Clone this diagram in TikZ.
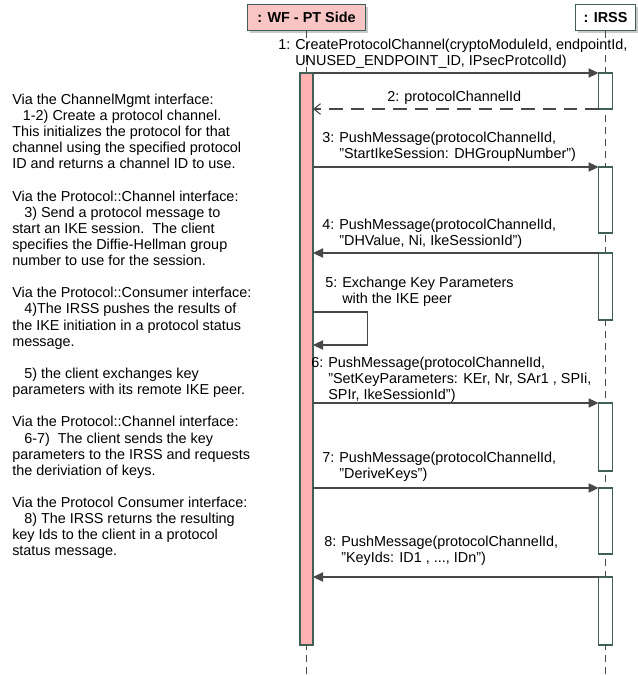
\documentclass[tikz,border=0pt]{standalone}
\usepackage{fontspec}
\setmainfont{Liberation Sans}
\usetikzlibrary{arrows.meta,positioning,shadows}

\definecolor{boxedge}{RGB}{64,96,86}
\definecolor{headpink}{RGB}{248,196,196}
\definecolor{barpink}{RGB}{255,178,178}
\definecolor{msgline}{RGB}{72,72,72}

% activation box on the IRSS lifeline: name, top, bottom (px)
\newcommand{\actbox}[3]{%
  \node[irssbar,minimum height={(#3-#2)*0.75pt},anchor=north] (#1) at (605.5,#2) {};}
% numbered message text, wrapped lines kept under the text
\newcommand{\steptext}[2]{%
  \begin{tabular}[t]{@{}l@{\hspace{0.35em}}l@{}}#1 & \begin{tabular}[t]{@{}l@{}}#2\end{tabular}\end{tabular}}

\begin{document}
\begin{tikzpicture}
	[x=0.75pt,y=-0.75pt,
	font=\fontsize{10.8}{12.1}\selectfont,
	head/.style={draw=boxedge,line width=0.9pt,inner sep=0pt,minimum height=20pt,
		font=\fontsize{10.8}{12.1}\selectfont\bfseries,
		drop shadow={shadow xshift=1.8pt,shadow yshift=-1.8pt,fill=black!35,opacity=0.6}},
	irssbar/.style={draw=boxedge,fill=white,line width=0.9pt,minimum width=10.5pt,inner sep=0pt,outer sep=0pt},
	wfbar/.style={irssbar,fill=barpink,minimum width=9.75pt},
	life/.style={draw=msgline,line width=0.6pt,dash pattern=on 5pt off 4pt},
	msg/.style={draw=msgline,line width=0.8pt,-{Triangle[length=7.5pt,width=7pt]}},
	ret/.style={draw=msgline,line width=0.8pt,dash pattern=on 10pt off 6pt,
		-{Straight Barb[length=5pt,width=8pt]}},
	lbl/.style={anchor=north west,inner sep=0pt,align=left}]
	\useasboundingbox (0,0) rectangle (637,676);
	%%%%% HEADS AND LIFELINES
	\node[head,fill=headpink,minimum width=88.5pt] (wf) at (306.5,17.5) {: WF - PT Side};
	\node[head,fill=white,minimum width=45pt] (irss) at (605.5,17.5) {: IRSS};
	\coordinate (wfend) at (306.5,676);
	\coordinate (irssend) at (605.5,676);
	\draw[life] (wf.south) -- (wfend);
	\draw[life] (irss.south) -- (irssend);
	%%%%% ACTIVATIONS
	\node[wfbar,minimum height={(645-73)*0.75pt},anchor=north] (wfbar) at (306.5,73) {};
	\actbox{a1}{73}{109}
	\actbox{a2}{167}{233}
	\actbox{a3}{253}{320}
	\actbox{a4}{403}{471}
	\actbox{a5}{488}{554}
	\actbox{a6}{577}{645}
	%%%%% MESSAGES
	\draw[msg] (wfbar.east |- a1.north) -- (a1.north west);
	\draw[ret] (a1.south west) -- (wfbar.east |- a1.south);
	\draw[msg] (wfbar.east |- a2.north) -- (a2.north west);
	\draw[msg] (a3.north west) -- (wfbar.east |- a3.north);
	\coordinate (loopa) at (wfbar.east |- 0,312);
	\coordinate (loopb) at (wfbar.east |- 0,345);
	\draw[msg] (loopa) -- ++(54.5,0) |- (loopb);
	\draw[msg] (wfbar.east |- a4.north) -- (a4.north west);
	\draw[msg] (wfbar.east |- a5.north) -- (a5.north west);
	\draw[msg] (a6.north west) -- (wfbar.east |- a6.north);
	%%%%% MESSAGE LABELS
	\node[lbl] (t1) at (278,38) {\steptext{1:}{CreateProtocolChannel(cryptoModuleId, endpointId,\\UNUSED\_ENDPOINT\_ID, IPsecProtcolId)}};
	\node[lbl] (t2) at (387,90) {\steptext{2:}{protocolChannelId}};
	\node[lbl] (t3) at (322,131) {\steptext{3:}{PushMessage(protocolChannelId,\\"StartIkeSession: DHGroupNumber")}};
	\node[lbl] (t4) at (322,218) {\steptext{4:}{PushMessage(protocolChannelId,\\"DHValue, Ni, IkeSessionId")}};
	\node[lbl] (t5) at (325,276) {\steptext{5:}{Exchange Key Parameters\\with the IKE peer}};
	\node[lbl] (t6) at (311,356) {\steptext{6:}{PushMessage(protocolChannelId,\\"SetKeyParameters: KEr, Nr, SAr1 , SPIi,\\SPIr, IkeSessionId")}};
	\node[lbl] (t7) at (322,451) {\steptext{7:}{PushMessage(protocolChannelId,\\"DeriveKeys")}};
	\node[lbl] (t8) at (324,535) {\steptext{8:}{PushMessage(protocolChannelId,\\"KeyIds: ID1 , ..., IDn")}};
	%%%%% NOTES
	\node[lbl] (notes) at (12,93.5) {Via the ChannelMgmt interface:\\
		\hspace*{8pt}1-2) Create a protocol channel.\\
		This initializes the protocol for that\\
		channel using the specified protocol\\
		ID and returns a channel ID to use.\\[12.1pt]
		Via the Protocol::Channel interface:\\
		\hspace*{9pt}3) Send a protocol message to\\
		start an IKE session.\ \ The client\\
		specifies the Diffie-Hellman group\\
		number to use for the session.\\[12.1pt]
		Via the Protocol::Consumer interface:\\
		\hspace*{9pt}4)The IRSS pushes the results of\\
		the IKE initiation in a protocol status\\
		message.\\[12.1pt]
		\hspace*{9pt}5) the client exchanges key\\
		parameters with its remote IKE peer.\\[12.1pt]
		Via the Protocol::Channel interface:\\
		\hspace*{9pt}6-7)\ \ The client sends the key\\
		parameters to the IRSS and requests\\
		the deriviation of keys.\\[12.1pt]
		Via the Protocol Consumer interface:\\
		\hspace*{9pt}8) The IRSS returns the resulting\\
		key Ids to the client in a protocol\\
		status message.};
\end{tikzpicture}
\end{document}
